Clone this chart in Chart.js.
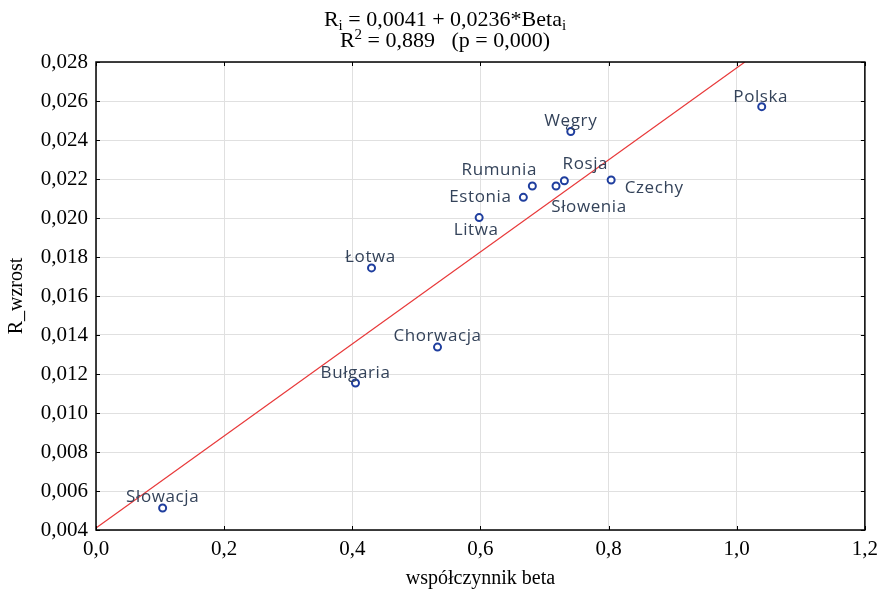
<!DOCTYPE html>
<html>
<head>
<meta charset="utf-8">
<script src="https://cdn.jsdelivr.net/npm/chart.js@4/dist/chart.umd.min.js"></script>
<style>
html,body{margin:0;padding:0;background:#fff;}
#wrap{width:885px;height:593px;position:relative;}
</style>
</head>
<body>
<div id="wrap"><canvas id="c" width="885" height="593"></canvas></div>
<script>
// ---- data ----
const countries = ['Słowacja','Bułgaria','Łotwa','Chorwacja','Litwa','Estonia','Rumunia','Słowenia','Rosja','Czechy','Węgry','Polska'];
const betaValues = [0.104, 0.405, 0.430, 0.533, 0.598, 0.667, 0.681, 0.718, 0.731, 0.804, 0.741, 1.039];
const growthValues = [0.00513, 0.01154, 0.01744, 0.01338, 0.02002, 0.02106, 0.02164, 0.02164, 0.02191, 0.02195, 0.02443, 0.02571];
const intercept = 0.0041;
const slope = 0.0236;
const xTicks = [0, 0.2, 0.4, 0.6, 0.8, 1.0, 1.2];
const yTicks = [0.004, 0.006, 0.008, 0.010, 0.012, 0.014, 0.016, 0.018, 0.020, 0.022, 0.024, 0.026, 0.028];
const titleLine1 = ['R', 'i', ' = 0,0041 + 0,0236*Beta', 'i'];
const titleLine2 = ['R', '2', ' = 0,889   (p = 0,000)'];
const xTitle = 'współczynnik beta';
const yTitle = 'R_wzrost';

// label placement (style only): offsets of label centre from point, in px
const labelOffsets = {
  'Słowacja':[0,-11],'Bułgaria':[0,-10],'Łotwa':[-1,-11],'Chorwacja':[0,-11],
  'Litwa':[-3,13],'Estonia':[-43,0],'Rumunia':[-33,-16],'Słowenia':[33,21],
  'Rosja':[21,-17],'Czechy':[43,8],'Węgry':[0,-10],'Polska':[-1,-9]
};

const points = betaValues.map((b,i)=>({x:b,y:growthValues[i]}));
const xEnd = (yTicks[yTicks.length-1]-intercept)/slope;
const regLine = [{x:0,y:intercept},{x:xEnd,y:intercept+slope*xEnd}];

const serif = "'Liberation Serif','Times New Roman',serif";
const fmt = (v,d)=>v.toFixed(d).replace('.',',');

const decor = {
  id:'decor',
  afterDraw(chart){
    const ctx = chart.ctx, ca = chart.chartArea;
    const xs = chart.scales.x, ys = chart.scales.y;
    ctx.save();
    // frame
    ctx.strokeStyle = '#000'; ctx.lineWidth = 1.5;
    ctx.strokeRect(ca.left, ca.top, ca.right-ca.left, ca.bottom-ca.top);
    // inward ticks
    ctx.lineWidth = 1;
    yTicks.forEach(v=>{
      const y = Math.round(ys.getPixelForValue(v))+0.5;
      ctx.beginPath(); ctx.moveTo(ca.left, y); ctx.lineTo(ca.left+4, y); ctx.stroke();
      ctx.beginPath(); ctx.moveTo(ca.right, y); ctx.lineTo(ca.right-4, y); ctx.stroke();
    });
    xTicks.forEach(v=>{
      const x = Math.round(xs.getPixelForValue(v))+0.5;
      ctx.beginPath(); ctx.moveTo(x, ca.bottom); ctx.lineTo(x, ca.bottom-4); ctx.stroke();
      ctx.beginPath(); ctx.moveTo(x, ca.top); ctx.lineTo(x, ca.top+4); ctx.stroke();
    });
    // point labels
    ctx.font = "17px 'Open Sans', sans-serif";
    ctx.fillStyle = '#34435a';
    ctx.textAlign = 'center'; ctx.textBaseline = 'middle';
    try { ctx.letterSpacing = '0.6px'; } catch(e){}
    countries.forEach((name,i)=>{
      const px = xs.getPixelForValue(betaValues[i]);
      const py = ys.getPixelForValue(growthValues[i]);
      const o = labelOffsets[name] || [0,-10];
      ctx.fillText(name, px+o[0], py+o[1]);
    });
    try { ctx.letterSpacing = '0px'; } catch(e){}
    // title with sub/superscripts
    const drawRich = (parts, cx, baseY, kinds)=>{
      const big = "22px "+serif, small = "15px "+serif;
      let widths = parts.map((p,k)=>{ ctx.font = kinds[k]==='n'?big:small; return ctx.measureText(p).width; });
      let total = widths.reduce((a,b)=>a+b,0);
      let x = cx - total/2;
      ctx.textAlign='left'; ctx.textBaseline='alphabetic'; ctx.fillStyle='#000';
      parts.forEach((p,k)=>{
        ctx.font = kinds[k]==='n'?big:small;
        const dy = kinds[k]==='sub'?4:(kinds[k]==='sup'?-8:0);
        ctx.fillText(p, x, baseY+dy);
        x += widths[k];
      });
    };
    drawRich(titleLine1, 445, 26, ['n','sub','n','sub']);
    drawRich(titleLine2, 445, 47, ['n','sup','n']);
    ctx.restore();
  }
};

new Chart(document.getElementById('c'), {
  type:'scatter',
  data:{
    datasets:[
      {
        type:'line', data:regLine, borderColor:'#e8393a', borderWidth:1.2,
        pointRadius:0, fill:false, tension:0, order:2
      },
      {
        data:points, pointRadius:3.5, pointBorderWidth:2,
        pointBorderColor:'#1f3e9e', pointBackgroundColor:'#ffffff', order:1
      }
    ]
  },
  plugins:[decor],
  options:{
    responsive:false, animation:false, devicePixelRatio:1,
    layout:{padding:{top:62,right:19,left:0,bottom:0}},
    plugins:{legend:{display:false},tooltip:{enabled:false},title:{display:false}},
    scales:{
      x:{
        type:'linear', min:0, max:1.2,
        afterBuildTicks(s){ s.ticks = xTicks.map(v=>({value:v})); },
        afterFit(s){ s.height = 63; },
        grid:{color:'#e0e0e0', lineWidth:1, drawTicks:false},
        border:{display:false},
        ticks:{color:'#000', font:{family:serif, size:21}, padding:7, maxRotation:0,
          callback:(v)=>fmt(v,1)},
        title:{display:true, text:xTitle, color:'#000', font:{family:serif,size:20}, padding:{top:0,bottom:2}}
      },
      y:{
        type:'linear', min:0.004, max:0.028,
        afterBuildTicks(s){ s.ticks = yTicks.map(v=>({value:v})); },
        afterFit(s){ s.width = 96; },
        grid:{color:'#e0e0e0', lineWidth:1, drawTicks:false},
        border:{display:false},
        ticks:{color:'#000', font:{family:serif, size:21}, padding:8,
          callback:(v)=>fmt(v,3)},
        title:{display:true, text:yTitle, color:'#000', font:{family:serif,size:20}, padding:{top:5,bottom:0}}
      }
    }
  }
});
</script>
</body>
</html>
